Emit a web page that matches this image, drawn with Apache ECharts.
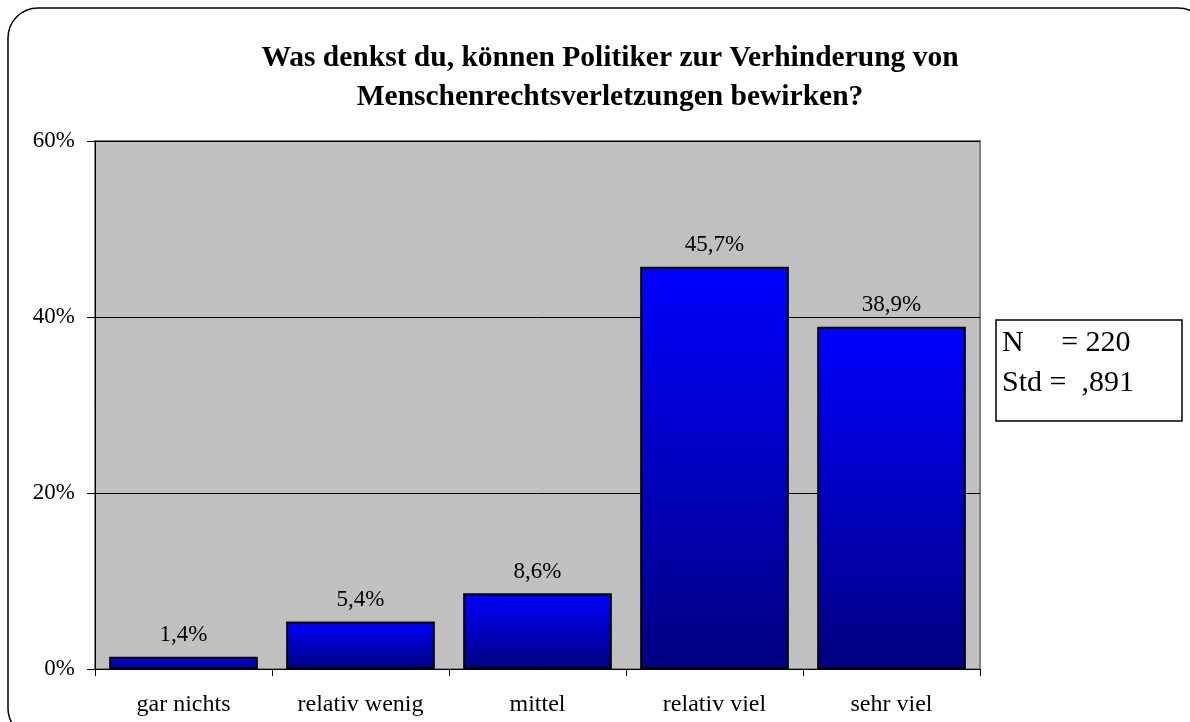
<!DOCTYPE html>
<html>
<head>
<meta charset="utf-8">
<script src="https://cdn.jsdelivr.net/npm/echarts@6/dist/echarts.min.js"></script>
<style>html,body{margin:0;padding:0;background:#fff;}#c{width:1190px;height:722px;}</style>
</head>
<body>
<div id="c"></div>
<script>
const titleText = 'Was denkst du, können Politiker zur Verhinderung von\nMenschenrechtsverletzungen bewirken?';
const categories = ['gar nichts', 'relativ wenig', 'mittel', 'relativ viel', 'sehr viel'];
const values = [1.4, 5.4, 8.6, 45.7, 38.9];
const yTicks = [0, 20, 40, 60];
const statsLines = ['N     = 220', 'Std =  ,891'];

const serif = '"Liberation Serif", "Times New Roman", serif';
const chart = echarts.init(document.getElementById('c'));
chart.setOption({
  animation: false,
  backgroundColor: '#fff',
  title: {
    text: titleText,
    left: 605, top: 34, textAlign: 'center',
    textStyle: {fontFamily: serif, fontSize: 29.5, fontWeight: 'bold', color: '#000', lineHeight: 39}
  },
  grid: {left: 95, right: 210, top: 141, bottom: 53, show: true, backgroundColor: '#c0c0c0', borderColor: '#808080', borderWidth: 2},
  xAxis: {
    type: 'category', data: categories,
    axisLine: {show: true, lineStyle: {color: '#000', width: 1}},
    axisTick: {show: true, length: 7, lineStyle: {color: '#000'}},
    axisLabel: {fontFamily: serif, fontSize: 24, color: '#000', margin: 24}
  },
  yAxis: {
    type: 'value', min: 0, max: 60, interval: 20,
    axisLine: {show: true, lineStyle: {color: '#000', width: 1}},
    axisTick: {show: true, length: 8, lineStyle: {color: '#000'}},
    axisLabel: {fontFamily: serif, fontSize: 23, color: '#000', margin: 20,
      formatter: v => yTicks.includes(v) ? v + '%' : ''},
    splitLine: {show: true, lineStyle: {color: '#000', width: 1}}
  },
  series: [{
    type: 'bar', data: values, barCategoryGap: '16%',
    itemStyle: {
      borderColor: '#000', borderWidth: 2,
      color: new echarts.graphic.LinearGradient(0, 0, 0, 1, [
        {offset: 0, color: '#0000ff'}, {offset: 1, color: '#000080'}
      ], false)
    },
    label: {show: true, position: 'top', distance: 10, fontFamily: serif, fontSize: 23, color: '#000',
      formatter: p => p.value.toFixed(1).replace('.', ',') + '%'}
  }],
  graphic: [
    {type: 'rect', shape: {x: 8, y: 8, width: 1200, height: 730, r: 30}, style: {fill: 'none', stroke: '#000', lineWidth: 1.5}, z: 100, silent: true},
    {type: 'rect', shape: {x: 996, y: 320, width: 186, height: 101}, style: {fill: '#fff', stroke: '#000', lineWidth: 1.5}, z: 100},
    {type: 'text', x: 1002, y: 323, style: {text: statsLines.join('\n'), fontFamily: serif, fontSize: 30, lineHeight: 40, fill: '#000'}, z: 101}
  ]
});
</script>
</body>
</html>
